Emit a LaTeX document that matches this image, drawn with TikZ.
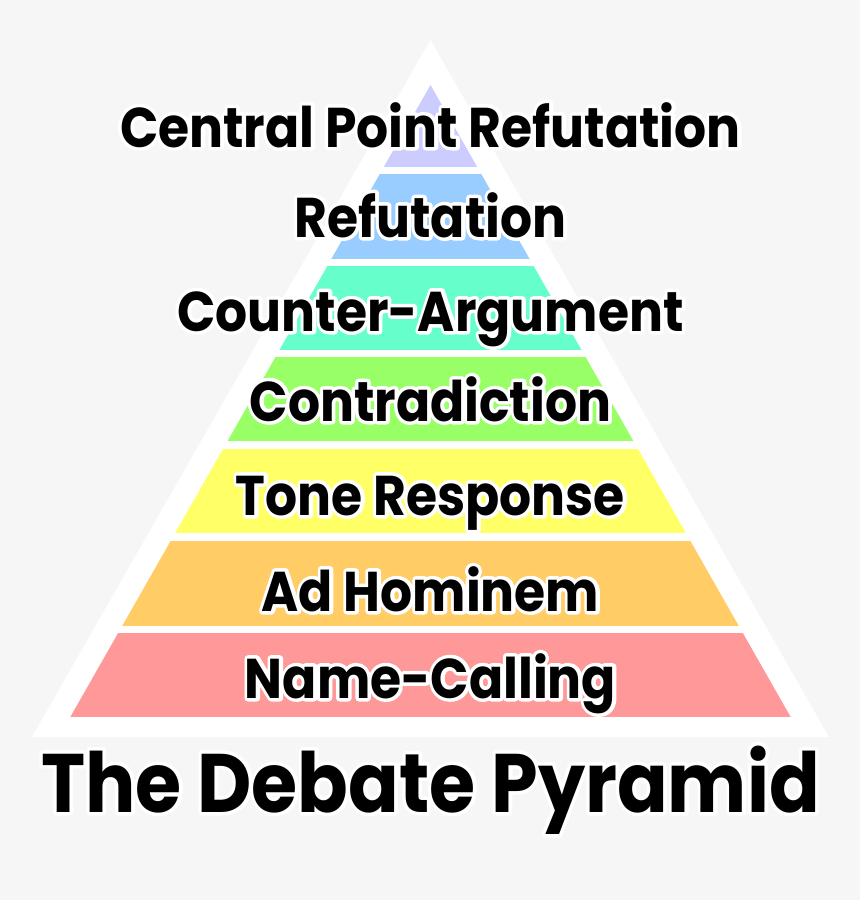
\documentclass[tikz,border=0pt]{standalone}
\usepackage{fontspec}
\newfontfamily\popfont{Poppins}[FakeStretch=0.9]
\definecolor{bgc}{HTML}{F6F6F6}
\definecolor{cpurple}{HTML}{CCCCFF}
\definecolor{cblue}{HTML}{99CCFF}
\definecolor{cteal}{HTML}{66FFCC}
\definecolor{cgreen}{HTML}{99FF66}
\definecolor{cyellow}{HTML}{FFFF66}
\definecolor{corange}{HTML}{FFCC66}
\definecolor{cpink}{HTML}{FF9999}
% white halo drawn as a stroked copy of the text, then the text on top
\newcommand\halo[1]{\leavevmode\rlap{\special{pdf:literal direct q 1 Tr 7 w 1 j 1 1 1 RG}#1\special{pdf:literal direct Q}}#1}
\tikzset{
  lbl/.style={anchor=base, inner sep=0pt, font=\popfont\bfseries\fontsize{56}{60}\selectfont},
  ttl/.style={anchor=base, inner sep=0pt, font=\popfont\bfseries\fontsize{83}{90}\selectfont},
}
\begin{document}
\begin{tikzpicture}[x=1pt,y=-1pt]
\fill[bgc] (0,0) rectangle (860,900);
\useasboundingbox (0,0) rectangle (860,900);
% white triangle
\fill[white] (430.5,40) -- (829,737) -- (32,737) -- cycle;
% coloured bands
\begin{scope}
\clip (430.5,85) -- (790.7,717) -- (70.3,717) -- cycle;
\fill[cpurple] (0,80) rectangle (860,167);
\fill[cblue] (0,174) rectangle (860,259);
\fill[cteal] (0,266) rectangle (860,350);
\fill[cgreen] (0,357) rectangle (860,441);
\fill[cyellow] (0,449) rectangle (860,533);
\fill[corange] (0,541) rectangle (860,626);
\fill[cpink] (0,633) rectangle (860,717);
\end{scope}
% labels
\node[lbl] (l7) at (430.5,147) {\halo{Central Point Refutation}};
\node[lbl] (l6) at (430.5,237) {\halo{Refutation}};
\node[lbl] (l5) at (430.5,331) {\halo{Counter-Argument}};
\node[lbl] (l4) at (430.5,421) {\halo{Contradiction}};
\node[lbl] (l3) at (430.5,515) {\halo{Tone Response}};
\node[lbl] (l2) at (430.5,611) {\halo{Ad Hominem}};
\node[lbl] (l1) at (430.5,698) {\halo{Name-Calling}};
\node[ttl] (title) at (430.5,812) {\halo{The Debate Pyramid}};
\end{tikzpicture}
\end{document}
